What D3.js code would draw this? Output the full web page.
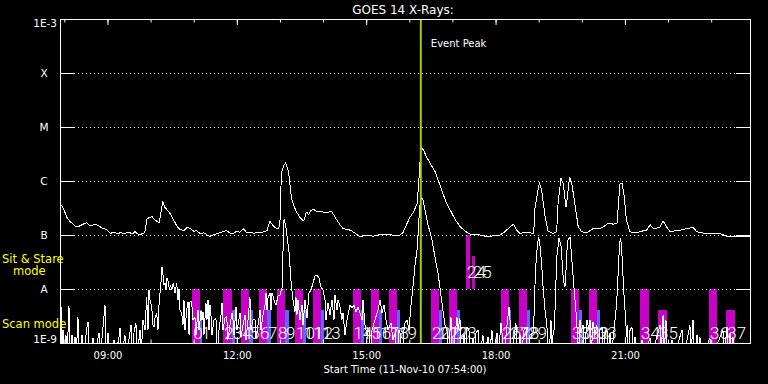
<!DOCTYPE html>
<html>
<head>
<meta charset="utf-8">
<script src="https://cdn.jsdelivr.net/npm/d3@7"></script>
<style>
  body { margin: 0; background: #000; }
  svg { display: block; }
  text { font-family: "DejaVu Sans", sans-serif; fill: #fff; }
</style>
</head>
<body>
<div id="chart"></div>
<script>
// Time range of the plot (UT)
const startTime = "2010-11-11 07:54";
const endTime = "2010-11-11 23:54";
const eventPeak = "2010-11-11 16:16";

// GOES 14 long channel (1-8 A): [minutes after start, log10 flux]
const longChannel = [
    [0,-6.41],[5,-6.51],[9,-6.66],[14,-6.75],[19,-6.81],[23,-6.85],[28,-6.83],[32,-6.80],
    [37,-6.77],[41,-6.82],[44,-6.83],[48,-6.80],[51,-6.81],[56,-6.85],[60,-6.88],[65,-6.90],
    [70,-6.97],[75,-6.95],[80,-6.97],[84,-6.96],[90,-6.97],[95,-6.95],[102,-6.98],[104,-6.93],
    [108,-6.98],[111,-7.0],[115,-6.97],[118,-6.96],[121,-6.70],[124,-6.68],[128,-6.66],
    [132,-6.72],[135,-6.75],[138,-6.77],[143,-6.38],[146,-6.49],[150,-6.55],[153,-6.60],
    [158,-6.72],[162,-6.82],[165,-6.88],[168,-6.90],[172,-6.92],[177,-6.86],[181,-6.88],
    [186,-6.93],[190,-6.92],[195,-6.97],[200,-6.96],[205,-7.0],[209,-7.03],[214,-6.99],
    [218,-6.98],[224,-6.95],[228,-6.93],[232,-6.92],[237,-6.97],[241,-6.97],[246,-6.93],
    [250,-6.95],[255,-6.88],[260,-6.96],[265,-6.95],[270,-6.97],[274,-6.95],[278,-6.96],
    [284,-6.94],[288,-6.92],[292,-6.75],[296,-6.82],[299,-6.86],[304,-6.89],[306,-6.78],
    [308,-5.86],[311,-5.72],[314,-5.66],[318,-5.83],[322,-6.32],[326,-6.48],[329,-6.57],
    [334,-6.68],[339,-6.74],[343,-6.57],[346,-6.63],[349,-6.55],[352,-6.52],[357,-6.56],
    [362,-6.57],[370,-6.58],[378,-6.57],[381,-6.63],[385,-6.72],[390,-6.82],[394,-6.88],
    [399,-6.90],[404,-6.91],[410,-6.96],[417,-7.03],[425,-7.01],[436,-7.02],[445,-6.99],
    [454,-6.99],[462,-7.00],[473,-7.0],[477,-6.96],[482,-6.81],[487,-6.67],[492,-6.57],
    [497,-6.41],[500,-5.86],[502,-5.37],[506,-5.43],[510,-5.56],[515,-5.67],[522,-5.83],
    [526,-5.98],[532,-6.20],[537,-6.39],[543,-6.54],[550,-6.72],[557,-6.85],[564,-6.93],
    [570,-6.98],[577,-6.99],[584,-7.0],[591,-7.02],[598,-7.03],[605,-7.00],[612,-7.0],
    [619,-6.94],[626,-6.85],[631,-6.80],[635,-6.91],[640,-6.97],[647,-6.95],[654,-6.96],
    [659,-6.97],[661,-6.48],[667,-6.03],[670,-6.17],[675,-6.66],[679,-6.93],[686,-6.97],
    [691,-6.94],[693,-6.41],[697,-5.95],[700,-6.04],[704,-6.48],[706,-6.29],[709,-5.93],
    [712,-6.04],[717,-6.48],[721,-6.85],[726,-6.94],[733,-6.96],[742,-6.88],[751,-6.88],
    [757,-6.84],[763,-6.78],[770,-6.80],[775,-6.78],[779,-6.06],[782,-6.04],[785,-6.29],
    [788,-6.72],[793,-6.94],[802,-6.96],[809,-6.93],[816,-6.91],[821,-6.81],[826,-6.89],
    [835,-6.85],[839,-6.74],[844,-6.85],[849,-6.94],[856,-6.92],[863,-6.91],[872,-6.88],
    [881,-6.86],[886,-6.94],[893,-6.96],[900,-6.97],[909,-6.98],[918,-6.97],[928,-7.03],
    [937,-7.02],[946,-7.03],[953,-7.02],[960,-7.03]
];

// GOES 14 short channel (0.5-4 A): [minutes after start, log10 flux], -9.3 = below 1E-9
const shortChannel = [
    [0,-8.76],[1.4,-8.33],[2.8,-9.3],[4.2,-8.76],[5.6,-9.3],[8.3,-8.85],[9.7,-9.3],[12.5,-8.31],
    [13.9,-9.3],[16.7,-8.85],[18.1,-9.3],[20.9,-8.89],[22.3,-9.3],[25.0,-8.52],[26.4,-9.3],
    [30.6,-8.85],[32.0,-9.3],[37.6,-8.70],[39.0,-8.61],[40.3,-9.3],[45.9,-8.91],[47.3,-9.3],
    [54.3,-8.81],[55.7,-9.3],[62.6,-8.30],[64.0,-9.3],[66.8,-8.81],[68.2,-9.3],[75.1,-8.94],
    [76.5,-9.3],[82.1,-8.89],[83.5,-8.72],[84.9,-9.3],[90.4,-8.85],[91.8,-9.3],[98.8,-8.67],
    [100.2,-9.3],[103.0,-8.80],[105.7,-8.63],[107.1,-9.3],[111.3,-8.76],[112.7,-9.3],
    [115.5,-8.57],[118.3,-8.76],[120.6,-8.15],[122.4,-8.76],[123.8,-8.02],[125.2,-8.20],
    [127.6,-8.33],[129.4,-8.67],[130.8,-8.70],[132.2,-8.54],[134.5,-8.44],[136.3,-8.76],
    [138.2,-8.15],[139.8,-8.02],[141.9,-7.59],[143.3,-7.74],[144.7,-7.93],[146.1,-7.89],
    [147.5,-8.02],[148.9,-7.80],[150.7,-7.87],[152.3,-8.02],[153.7,-7.93],[155.4,-8.02],
    [157.6,-7.89],[160.0,-8.07],[162.4,-7.89],[164.2,-8.20],[165.6,-8.00],[167.0,-8.39],
    [169.3,-8.44],[171.1,-8.67],[172.5,-8.20],[173.9,-8.76],[176.3,-8.39],[178.1,-8.24],
    [179.5,-8.85],[180.9,-8.24],[183.2,-8.24],[185.0,-8.57],[187.8,-8.52],[189.2,-8.85],
    [192.0,-8.39],[193.4,-8.76],[196.2,-8.41],[197.6,-8.57],[199.0,-8.43],[200.3,-8.85],
    [203.1,-8.26],[204.5,-8.57],[205.9,-8.20],[207.3,-8.76],[208.7,-8.30],[210.1,-8.50],
    [211.5,-8.85],[214.3,-8.57],[217.0,-8.54],[218.4,-9.3],[221.2,-8.76],[224.0,-8.48],
    [225.4,-8.26],[226.8,-8.76],[229.6,-8.54],[231.9,-8.50],[233.7,-8.94],[236.5,-8.67],
    [239.3,-8.44],[240.7,-8.57],[242.1,-8.85],[244.9,-8.33],[246.3,-8.76],[249.0,-8.57],
    [250.4,-8.44],[251.8,-8.89],[254.6,-8.67],[257.4,-8.48],[258.8,-8.94],[261.6,-8.57],
    [264.3,-8.15],[265.7,-8.76],[268.5,-8.57],[271.3,-8.57],[272.7,-8.91],[275.5,-8.67],
    [278.3,-8.39],[279.7,-8.76],[282.4,-8.48],[285.2,-8.30],[286.6,-8.07],[288.0,-8.39],
    [289.4,-8.17],[292.2,-8.07],[293.6,-8.39],[295.0,-8.07],[297.7,-8.20],[300.5,-8.30],
    [303.3,-8.13],[306.1,-8.11],[308.9,-7.98],[310.3,-7.28],[311.7,-6.70],[314.4,-6.87],
    [316.5,-7.09],[318.6,-7.31],[321.3,-7.83],[324.1,-8.20],[326.9,-8.43],[328.3,-8.15],
    [329.7,-8.48],[331.1,-8.20],[333.9,-8.57],[336.7,-8.30],[338.1,-8.67],[340.9,-8.20],
    [343.7,-8.54],[346.4,-8.07],[349.2,-8.02],[352.0,-7.89],[354.8,-7.76],[357.6,-7.74],
    [360.3,-7.80],[363.1,-7.96],[365.9,-8.02],[368.7,-8.20],[370.1,-8.57],[372.9,-8.26],
    [375.7,-8.48],[378.4,-8.20],[381.2,-8.57],[382.6,-8.11],[385.4,-8.39],[386.8,-8.20],
    [389.6,-8.33],[392.3,-8.57],[393.7,-8.44],[396.5,-8.85],[399.3,-8.57],[402.1,-8.39],
    [403.5,-8.30],[406.3,-8.35],[409.0,-8.30],[411.8,-8.43],[414.6,-8.33],[417.4,-8.44],
    [420.2,-8.57],[421.6,-8.20],[424.3,-8.67],[427.1,-8.85],[429.9,-8.76],[431.3,-9.3],
    [434.1,-8.76],[438.3,-8.57],[442.4,-8.39],[445.2,-8.20],[448.0,-8.44],[450.8,-8.30],
    [453.6,-8.57],[456.3,-8.76],[459.1,-8.67],[460.5,-8.63],[463.3,-8.94],[466.1,-8.85],
    [468.9,-9.3],[471.6,-8.76],[473.0,-8.81],[475.8,-9.3],[478.6,-8.76],[480.0,-8.63],
    [482.8,-8.57],[485.6,-8.76],[487.0,-8.52],[488.3,-8.30],[491.1,-7.96],[493.9,-7.56],
    [496.7,-7.28],[498.1,-7.0],[499.5,-6.69],[500.9,-6.44],[502.3,-6.30],[505.0,-6.35],
    [507.8,-6.54],[512.0,-6.81],[517.6,-7.09],[521.7,-7.41],[525.9,-7.70],[528.7,-7.98],
    [531.5,-8.26],[534.3,-8.54],[535.7,-8.67],[538.4,-8.76],[539.8,-9.3],[544.0,-8.52],
    [545.4,-9.3],[549.6,-8.85],[552.3,-8.52],[553.7,-8.76],[556.5,-8.54],[557.9,-9.3],
    [562.1,-8.85],[563.5,-9.3],[566.3,-8.70],[569.0,-8.76],[570.4,-9.3],[574.6,-8.91],
    [576.0,-9.3],[578.8,-8.81],[581.6,-8.76],[583.0,-9.3],[588.5,-8.85],[589.9,-9.3],
    [595.5,-8.89],[596.9,-9.3],[601.0,-8.76],[602.4,-9.3],[608.0,-8.81],[609.4,-9.3],
    [613.6,-8.63],[615.0,-8.81],[616.4,-9.3],[620.5,-8.85],[624.7,-8.33],[626.1,-8.57],
    [627.5,-9.3],[631.6,-8.91],[634.4,-8.63],[635.8,-9.3],[640.0,-8.85],[641.4,-9.3],
    [645.6,-8.76],[648.4,-8.70],[649.7,-9.3],[653.9,-8.85],[658.7,-8.81],[660.1,-8.26],
    [661.5,-7.65],[664.2,-7.19],[666.0,-7.04],[667.8,-7.19],[670.2,-7.56],[672.4,-8.02],
    [674.8,-8.39],[677.1,-8.63],[678.2,-8.85],[678.9,-9.3],[681.7,-8.94],[683.1,-8.57],
    [684.5,-9.3],[685.9,-8.85],[687.3,-8.76],[688.7,-8.39],[690.1,-7.83],[691.5,-7.37],
    [694.3,-7.06],[697.0,-7.19],[700.3,-7.83],[702.6,-7.96],[704.0,-7.65],[705.4,-7.28],
    [706.8,-7.09],[709.6,-7.04],[711.7,-7.37],[714.2,-7.83],[716.5,-8.20],[718.9,-8.57],
    [721.1,-9.3],[723.5,-8.57],[724.9,-8.81],[727.7,-8.67],[729.1,-9.3],[733.3,-8.57],
    [736.0,-8.76],[737.4,-8.57],[738.8,-9.3],[741.6,-8.61],[744.4,-8.85],[747.1,-8.67],
    [748.5,-9.3],[751.3,-8.76],[754.1,-8.70],[755.5,-9.3],[758.3,-8.81],[761.0,-8.76],
    [762.4,-9.3],[765.2,-8.81],[766.6,-9.3],[770.8,-8.76],[774.5,-8.26],[776.8,-7.65],
    [778.4,-7.19],[779.8,-7.06],[781.2,-7.19],[782.9,-7.65],[784.7,-8.11],[786.1,-8.39],
    [788.5,-8.89],[788.9,-8.67],[790.3,-9.3],[793.1,-8.76],[795.8,-8.70],[797.2,-9.3],
    [800.0,-8.89],[801.4,-9.3],[809.7,-8.94],[811.1,-9.3],[820.9,-8.91],[822.3,-9.3],
    [834.8,-8.67],[836.2,-9.3],[839.0,-8.48],[840.4,-9.3],[843.1,-8.57],[844.5,-9.3],
    [851.5,-8.94],[852.9,-9.3],[865.4,-8.76],[866.8,-9.3],[876.5,-8.67],[877.9,-9.3],
    [880.7,-8.57],[882.1,-9.3],[886.3,-8.85],[887.6,-9.3],[890.4,-8.89],[891.8,-9.3],
    [904.3,-8.91],[905.7,-9.3],[922.4,-8.76],[923.8,-9.3],[928.0,-8.70],[929.4,-9.3],
    [932.2,-8.81],[933.6,-9.3],[936.3,-8.89],[937.7,-9.3],[960,-9.3]
];

// Y axis ticks
const yTickValues = [1e-9, 1e-8, 1e-7, 1e-6, 1e-5, 1e-4, 1e-3];
const yTickLabels = ["1E-9", "A", "B", "C", "M", "X", "1E-3"];

// Scan mode studies (start, end UT)
const scanStudies = [
    ["10:58","11:09"],["11:41","11:53"],["12:06","12:17"],["12:31","12:42"],["12:56","13:07"],
    ["13:21","13:32"],["13:46","13:57"],["14:41","14:53"],["15:07","15:18"],["15:32","15:43"],
    ["16:30","16:41"],["16:55","17:06"],["18:08","18:19"],["18:33","18:44"],["19:45","19:56"],
    ["20:10","20:21"],["21:21","21:33"],["22:57","23:08"]
];
const scanShortStudies = [["21:46","21:59"],["23:21","23:33"]];
const scanContext = [
    ["11:09","11:12"],["11:53","11:58"],["12:17","12:22"],["12:42","12:47"],["13:07","13:12"],
    ["13:32","13:36"],["13:57","14:01"],["14:53","14:57"],["15:18","15:22"],["15:43","15:47"],
    ["16:41","16:45"],["17:06","17:10"],["18:19","18:21"],["18:44","18:48"],["19:56","20:00"],
    ["20:21","20:25"]
];
// Sit & stare studies (start, end UT) and top level
const sitStare = [["17:19","17:24"],["17:27","17:31"]];
const sitStareTop = [1e-7, 4.1e-8];

const margin = { top: 19, right: 18, bottom: 41, left: 60 },
    width = 768 - margin.left - margin.right,
    height = 384 - margin.top - margin.bottom;

const parseTime = d3.utcParse("%Y-%m-%d %H:%M");
const t0 = parseTime(startTime);
const day = (hm) => parseTime("2010-11-11 " + hm);
const fromStart = (m) => new Date(t0.getTime() + m * 60000);

const svg = d3
    .select("#chart")
    .append("svg")
    .attr("width", 768)
    .attr("height", 384)
    .style("background", "#000");

const g = svg.append("g").attr("transform", `translate(${margin.left},${margin.top})`);

const x = d3.scaleUtc().domain([t0, parseTime(endTime)]).range([0, width]);
const y = d3.scaleLog().domain([1e-9, 1e-3]).range([height, 0]);

g.append("clipPath").attr("id", "plot")
    .append("rect").attr("width", width).attr("height", height);

// Bars: build one list so each gets its running number
const bars = []
    .concat(scanStudies.map((d) => ({ s: d[0], e: d[1], top: 1e-8, bottom: 1e-9, color: "#c800c8", scan: true })))
    .concat(scanShortStudies.map((d) => ({ s: d[0], e: d[1], top: 4.1e-9, bottom: 1e-9, color: "#c800c8", scan: true })))
    .concat(scanContext.map((d) => ({ s: d[0], e: d[1], top: 4.1e-9, bottom: 1e-9, color: "#6464ff", scan: true })))
    .concat(sitStare.map((d, i) => ({ s: d[0], e: d[1], top: sitStareTop[i], bottom: 1e-8, color: "#c800c8", scan: false })));
bars.sort((a, b) => day(a.s) - day(b.s));

const barG = g.append("g").attr("clip-path", "url(#plot)").attr("shape-rendering", "crispEdges");
barG.selectAll("rect")
    .data(bars)
    .join("rect")
    .attr("x", (d) => x(day(d.s)))
    .attr("width", (d) => x(day(d.e)) - x(day(d.s)))
    .attr("y", (d) => y(d.top))
    .attr("height", (d) => y(d.bottom) - y(d.top))
    .attr("fill", (d) => d.color);

// Dotted level lines with solid ends
const levels = yTickValues.slice(1, -1);
g.append("g").selectAll("line")
    .data(levels)
    .join("line")
    .attr("x1", 14).attr("x2", width - 14)
    .attr("y1", (d) => Math.round(y(d)) + 0.5).attr("y2", (d) => Math.round(y(d)) + 0.5)
    .attr("stroke", "#fff").attr("stroke-dasharray", "1,3");
["left", "right"].forEach((side) => {
    g.append("g").selectAll("line")
        .data(levels)
        .join("line")
        .attr("x1", side === "left" ? 0 : width - 14)
        .attr("x2", side === "left" ? 14 : width)
        .attr("y1", (d) => Math.round(y(d)) + 0.5).attr("y2", (d) => Math.round(y(d)) + 0.5)
        .attr("stroke", "#fff");
});

// The two X-ray channels, drawn aliased like the original plot
const line = d3.line()
    .x((d) => x(fromStart(d[0])))
    .y((d) => y(Math.pow(10, d[1])));
const curves = g.append("g").attr("clip-path", "url(#plot)").attr("shape-rendering", "crispEdges");
curves.append("path").datum(shortChannel)
    .attr("fill", "none").attr("stroke", "#fff").attr("stroke-width", 1)
    .attr("stroke-linejoin", "bevel").attr("d", line);
curves.append("path").datum(longChannel)
    .attr("fill", "none").attr("stroke", "#fff").attr("stroke-width", 1)
    .attr("stroke-linejoin", "bevel").attr("d", line);

// Event peak marker
const xp = x(parseTime(eventPeak));
g.append("line")
    .attr("x1", xp).attr("x2", xp).attr("y1", 0).attr("y2", height)
    .attr("stroke", "#a0d000").attr("stroke-width", 2);
g.append("text").attr("x", xp + 10).attr("y", 27.5)
    .style("font-size", "10px").text("Event Peak");

// Study numbers
g.append("g").selectAll("text")
    .data(bars)
    .join("text")
    .attr("x", (d) => x(day(d.s)) + 1)
    .attr("y", (d) => (d.scan ? height - 4 : y(1e-8) - 11))
    .style("font-family", "Roboto, 'DejaVu Sans', sans-serif")
    .style("font-weight", 300)
    .style("font-size", "17px")
    .text((d, i) => i);

// Frame
g.append("rect").attr("x", 0.5).attr("y", 0.5).attr("width", width).attr("height", height)
    .attr("fill", "none").attr("stroke", "#fff").attr("shape-rendering", "crispEdges");

// Time ticks top and bottom
const hours = d3.utcHour.every(1), threeHours = d3.utcHour.every(3);
g.append("g").call(d3.axisTop(x).ticks(hours).tickSize(-3.5).tickFormat(""));
g.append("g").call(d3.axisTop(x).ticks(threeHours).tickSize(-6).tickFormat(""));
g.append("g").attr("transform", `translate(0,${height})`)
    .call(d3.axisBottom(x).ticks(hours).tickSize(-3.5).tickFormat(""));
g.append("g").attr("transform", `translate(0,${height})`)
    .call(d3.axisBottom(x).ticks(threeHours).tickSize(-6).tickPadding(9)
        .tickFormat(d3.utcFormat("%H:%M")));
g.selectAll(".domain").remove();
g.selectAll(".tick line").attr("stroke", "#fff");
g.selectAll(".tick text").attr("fill", "#fff")
    .style("font-family", "'DejaVu Sans', sans-serif").style("font-size", "10px");

// Y labels
g.append("g").selectAll("text")
    .data(yTickValues)
    .join("text")
    .attr("x", (d, i) => (i === 0 || i === 6 ? -3 : -16))
    .attr("y", (d, i) => (i === 0 ? y(d) : i === 6 ? y(d) + 8 : y(d) + 4))
    .attr("text-anchor", (d, i) => (i === 0 || i === 6 ? "end" : "middle"))
    .style("font-size", "10.5px")
    .text((d, i) => yTickLabels[i]);

// Titles
svg.append("text").attr("x", 403).attr("y", 14).attr("text-anchor", "middle")
    .style("font-size", "12px").text("GOES 14 X-Rays:");
svg.append("text").attr("x", 405).attr("y", 373).attr("text-anchor", "middle")
    .style("font-size", "10px").text("Start Time (11-Nov-10 07:54:00)");

// Mode labels
const yellow = "#ffff00";
svg.append("text").attr("x", 2).attr("y", 263).style("fill", yellow)
    .style("font-size", "11.5px").text("Sit & Stare");
svg.append("text").attr("x", 13).attr("y", 275).style("fill", yellow)
    .style("font-size", "11.5px").text("mode");
svg.append("text").attr("x", 2).attr("y", 328).style("fill", yellow)
    .style("font-size", "11.5px").text("Scan mode");
</script>
</body>
</html>
